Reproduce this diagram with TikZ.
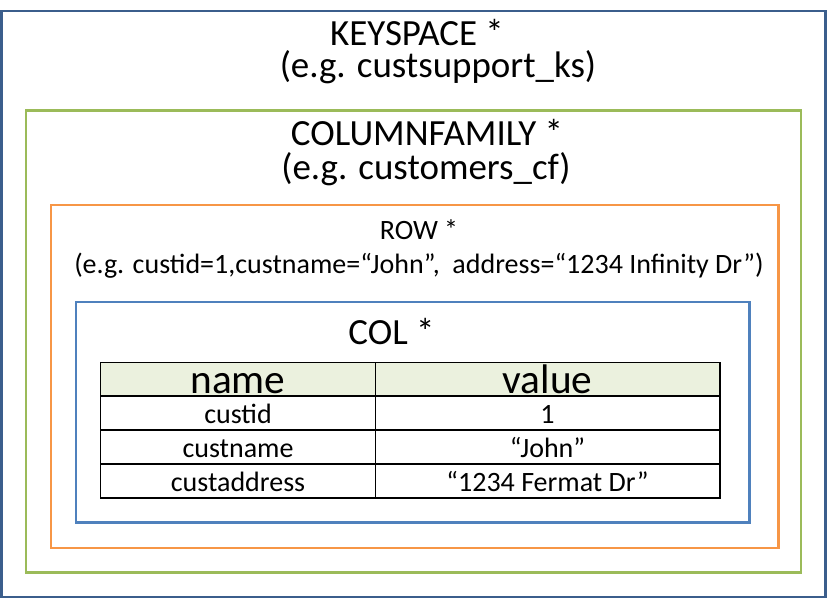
\documentclass[tikz,border=0pt]{standalone}
\usepackage{fontspec}
\setmainfont{Carlito}
\usepackage{tikz}
\usetikzlibrary{positioning}
\definecolor{keyblue}{HTML}{3B5E8C}
\definecolor{cfgreen}{HTML}{9BBB59}
\definecolor{roworange}{HTML}{F79646}
\definecolor{colblue}{HTML}{4F81BD}
\definecolor{headfill}{HTML}{EBF1DE}
\tikzstyle{box} = [line width=1.6pt]
\tikzstyle{title} = [font=\fontsize{27.7}{30}\selectfont, anchor=base, inner sep=0pt]
\tikzstyle{example} = [title, text height=17pt]
\tikzstyle{rowtext} = [font=\fontsize{21}{24}\selectfont, anchor=base, inner sep=0pt]
\tikzstyle{head} = [font=\fontsize{31}{34}\selectfont, anchor=base, inner sep=0pt]
\tikzstyle{cell} = [font=\fontsize{21}{24}\selectfont, anchor=base, inner sep=0pt]
\tikzstyle{grid} = [draw=black, line width=1.1pt]

\begin{document}
\begin{tikzpicture}[x=0.75pt, y=-0.75pt]
		\useasboundingbox (0,0) rectangle (827,599);

		% nested boxes
		\draw [box, draw=keyblue, line width=1.9pt] (1.5,11) rectangle (825.5,597);
		\draw [box, draw=cfgreen] (26,110.5) rectangle (801,572.5);
		\draw [box, draw=roworange] (51,205) rectangle (778.5,548);
		\draw [box, draw=colblue] (76,302) rectangle (749.5,522.5);

		% titles
		\node [title] (keyspace) at (417,46) {KEYSPACE *};
		\node [example] (keyspaceex) at (438,78) {(e.g. custsupport\_ks)};
		\node [title] (cf) at (427,146) {COLUMNFAMILY *};
		\node [example] (cfex) at (426,179) {(e.g. customers\_cf)};
		\node [rowtext] (row) at (419,239) {ROW *};
		\node [rowtext] (rowex) at (419,273) {(e.g. custid=1,custname=“John”,\ \ address=“1234 Infinity Dr”)};
		\node [title] (col) at (391.5,344) {COL *};

		% table
		\fill [headfill] (100.5,362.5) rectangle (720,396);
		\draw [grid] (100.5,362.5) rectangle (720,498);
		\draw [grid] (375.5,362.5) -- (375.5,498);
		\draw [grid] (100.5,396) -- (720,396);
		\draw [grid] (100.5,430) -- (720,430);
		\draw [grid] (100.5,464) -- (720,464);

		\node [head] (hname) at (238,393) {name};
		\node [head] (hvalue) at (547.5,393) {value};
		\node [cell] (idname) at (238,423) {custid};
		\node [cell] (idvalue) at (547.5,423) {1};
		\node [cell] (nmname) at (238,457) {custname};
		\node [cell] (nmvalue) at (547.5,457) {“John”};
		\node [cell] (adname) at (238,491) {custaddress};
		\node [cell] (advalue) at (547.5,491) {“1234 Fermat Dr”};
	\end{tikzpicture}
\end{document}
